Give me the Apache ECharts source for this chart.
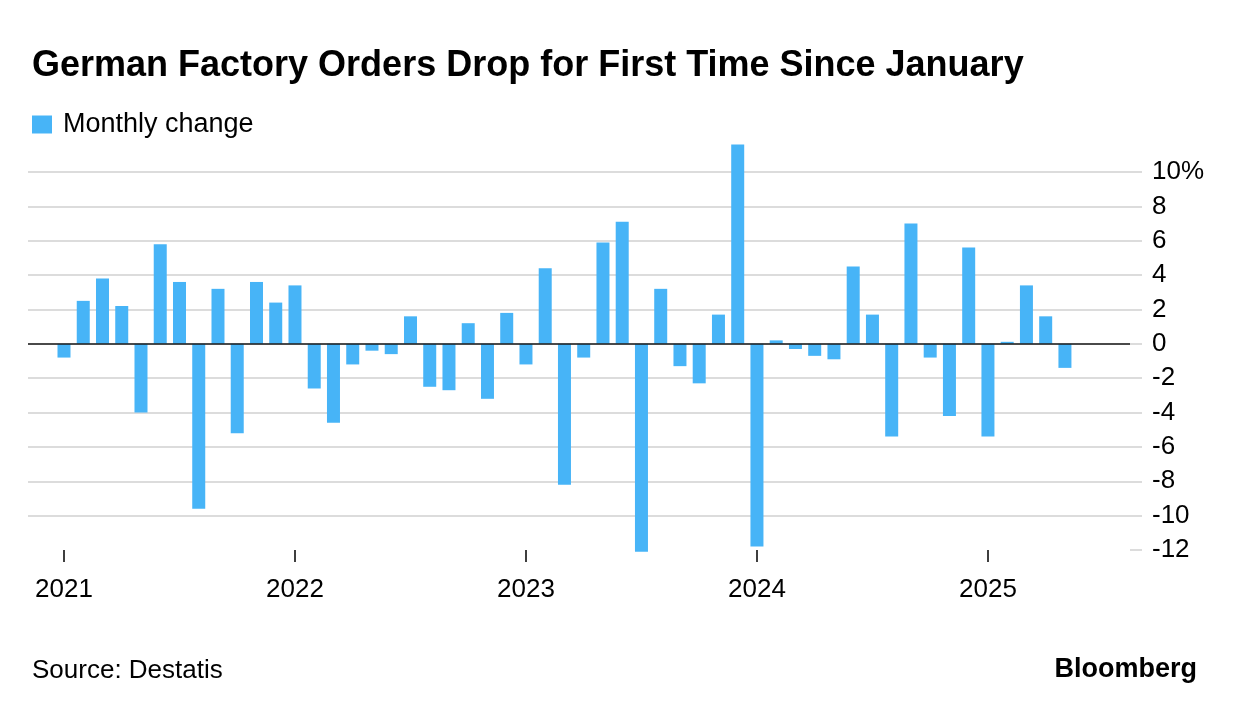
<!DOCTYPE html>
<html>
<head>
<meta charset="utf-8">
<script src="https://cdn.jsdelivr.net/npm/echarts@6/dist/echarts.min.js"></script>
<style>
html,body{margin:0;padding:0;background:#fff;}
#chart{width:1236px;height:710px;}
</style>
</head>
<body>
<div id="chart"></div>
<script>
// ---- data ----
const months = [
  '2021-01','2021-02','2021-03','2021-04','2021-05','2021-06','2021-07','2021-08','2021-09','2021-10','2021-11','2021-12',
  '2022-01','2022-02','2022-03','2022-04','2022-05','2022-06','2022-07','2022-08','2022-09','2022-10','2022-11','2022-12',
  '2023-01','2023-02','2023-03','2023-04','2023-05','2023-06','2023-07','2023-08','2023-09','2023-10','2023-11','2023-12',
  '2024-01','2024-02','2024-03','2024-04','2024-05','2024-06','2024-07','2024-08','2024-09','2024-10','2024-11','2024-12',
  '2025-01','2025-02','2025-03','2025-04','2025-05'
];
const monthlyChange = [
  -0.8, 2.5, 3.8, 2.2, -4.0, 5.8, 3.6, -9.6, 3.2, -5.2, 3.6, 2.4,
  3.4, -2.6, -4.6, -1.2, -0.4, -0.6, 1.6, -2.5, -2.7, 1.2, -3.2, 1.8,
  -1.2, 4.4, -8.2, -0.8, 5.9, 7.1, -12.1, 3.2, -1.3, -2.3, 1.7, 11.6,
  -11.8, 0.2, -0.3, -0.7, -0.9, 4.5, 1.7, -5.4, 7.0, -0.8, -4.2, 5.6,
  -5.4, 0.0, 3.4, 1.6, -1.4
];
const yearTicks = ['2021', '2022', '2023', '2024', '2025'];
const yTicks = [-12, -10, -8, -6, -4, -2, 0, 2, 4, 6, 8, 10];

// ---- chart ----
const FONT = '"Liberation Sans", Arial, Helvetica, sans-serif';
const tickPos = yearTicks.map(y => months.indexOf(y + '-01'));
const barData = monthlyChange.map((v, i) => [i, v]);

const chart = echarts.init(document.getElementById('chart'), null, {renderer: 'canvas'});
chart.setOption({
  backgroundColor: '#ffffff',
  animation: false,
  title: [{
    text: 'German Factory Orders Drop for First Time Since January',
    left: 27, top: 43,
    textStyle: {fontFamily: FONT, fontWeight: 'bold', fontSize: 36, color: '#000'}
  }, {
    text: 'Source: Destatis',
    left: 27, top: 653,
    textStyle: {fontFamily: FONT, fontWeight: 'normal', fontSize: 26, color: '#000'}
  }, {
    text: 'Bloomberg',
    right: 34, top: 651,
    textStyle: {fontFamily: FONT, fontWeight: 'bold', fontSize: 27, color: '#000'}
  }],
  legend: {
    left: 27, top: 106,
    itemWidth: 20, itemHeight: 18,
    icon: 'rect',
    textStyle: {fontFamily: FONT, fontSize: 27, color: '#000', padding: [0, 0, 0, 6]},
    data: ['Monthly change']
  },
  grid: {left: 28, top: 172, width: 1102, height: 378},
  xAxis: {
    type: 'value',
    min: -1.87, max: 55.38,
    splitLine: {show: false},
    axisLine: {show: false, onZero: false},
    axisTick: {show: true, customValues: tickPos, length: 12, lineStyle: {color: '#000', width: 1.5}},
    axisLabel: {
      show: true, customValues: tickPos, margin: 27,
      fontFamily: FONT, fontSize: 26, color: '#000',
      formatter: v => yearTicks[tickPos.indexOf(Math.round(v))] || ''
    }
  },
  yAxis: {
    type: 'value',
    position: 'right',
    min: yTicks[0], max: yTicks[yTicks.length - 1], interval: 2,
    axisLine: {show: false, onZero: false},
    axisTick: {show: true, inside: false, length: 12, lineStyle: {color: '#dcdcdc', width: 2}},
    splitLine: {show: true, showMinLine: false, lineStyle: {color: '#dcdcdc', width: 2}},
    axisLabel: {
      margin: 22,
      fontFamily: FONT, fontSize: 26, color: '#000',
      formatter: v => (v === 10 ? v + '%' : String(v))
    }
  },
  series: [{
    name: 'Monthly change',
    type: 'bar',
    data: barData,
    barWidth: 13,
    barMinHeight: 2,
    clip: false,
    itemStyle: {color: '#47b4f7'},
    markLine: {
      silent: true,
      symbol: 'none',
      label: {show: false},
      lineStyle: {color: '#1a1a1a', width: 1.5, type: 'solid'},
      data: [{yAxis: 0}]
    }
  }]
});
</script>
</body>
</html>
